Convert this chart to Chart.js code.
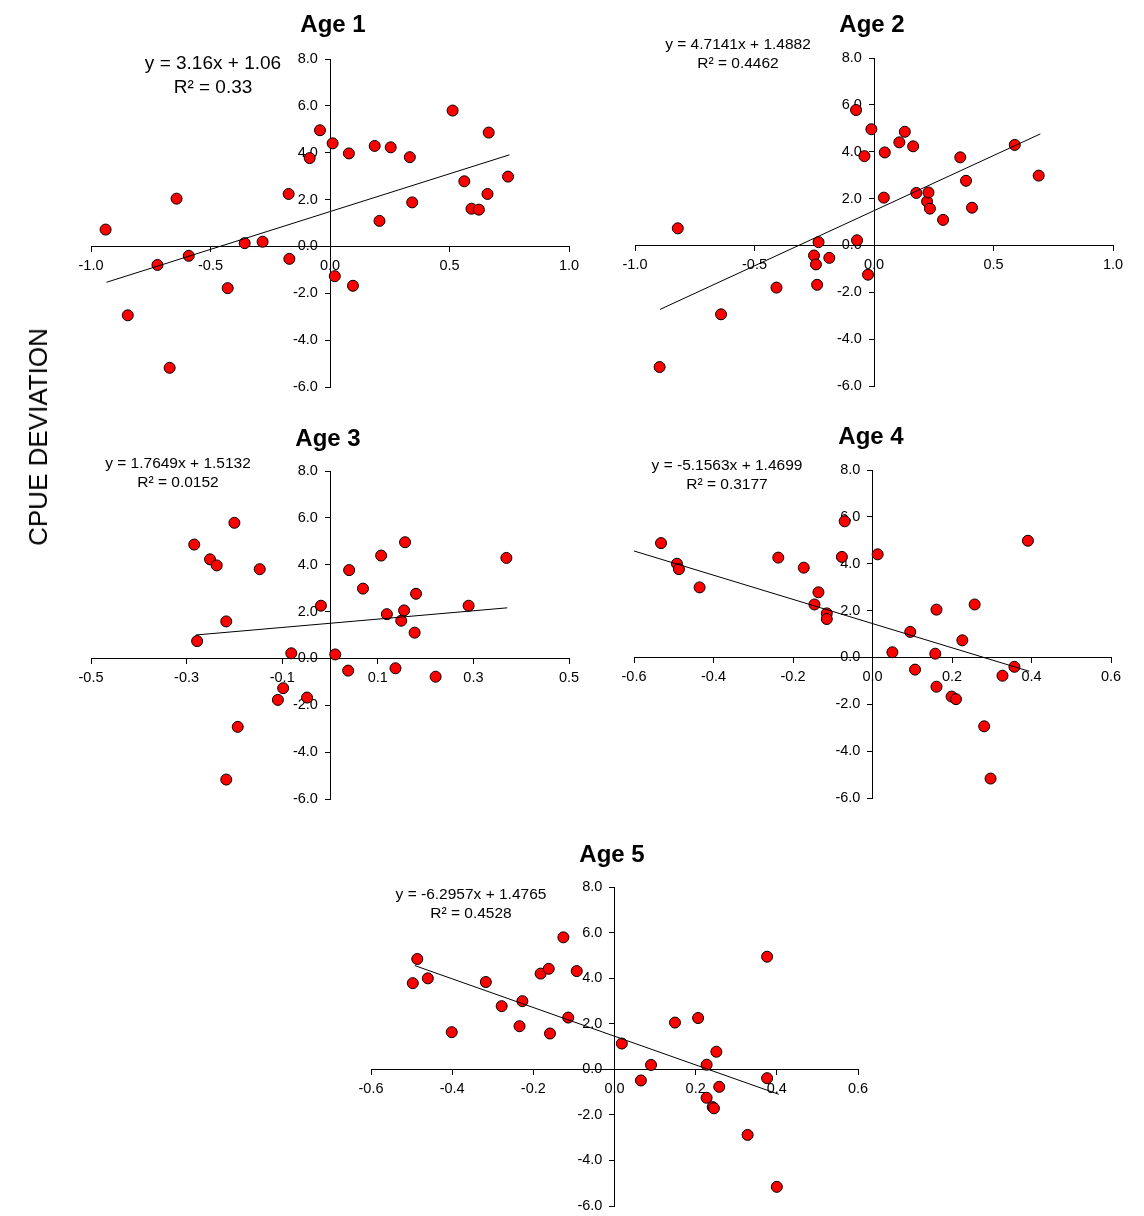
<!DOCTYPE html>
<html>
<head>
<meta charset="utf-8">
<script src="https://cdn.jsdelivr.net/npm/chart.js@4.4.1/dist/chart.umd.min.js"></script>
<style>
  html, body { margin: 0; padding: 0; background: #fff; }
  #page { position: relative; width: 1144px; height: 1216px; overflow: hidden;
          font-family: "Liberation Sans", Arial, sans-serif; color: #000; }
  canvas { position: absolute; }
  .txt { position: absolute; white-space: nowrap; line-height: 1; }
</style>
</head>
<body>
<div id="page"></div>
<script>
// ---- data (x = deviation, y = CPUE deviation) ----
const panelTitles = ['Age 1', 'Age 2', 'Age 3', 'Age 4', 'Age 5'];

const age1X = [-0.939, -0.846, -0.722, -0.671, -0.642, -0.591, -0.428, -0.357, -0.282, -0.173, -0.170, -0.085, -0.042, 0.011, 0.020, 0.079, 0.096, 0.187, 0.207, 0.254, 0.334, 0.344, 0.513, 0.562, 0.592, 0.623, 0.659, 0.664, 0.745];
const age1Y = [0.72, -2.94, -0.79, -5.18, 2.04, -0.40, -1.78, 0.14, 0.20, 2.24, -0.53, 3.77, 4.96, 4.40, -1.27, 3.97, -1.68, 4.29, 1.09, 4.23, 3.81, 1.88, 5.80, 2.78, 1.61, 1.57, 2.24, 4.86, 2.98];

const age2X = [-0.897, -0.821, -0.640, -0.408, -0.251, -0.243, -0.238, -0.232, -0.187, -0.075, -0.071, -0.040, -0.025, -0.011, 0.041, 0.045, 0.106, 0.129, 0.164, 0.177, 0.222, 0.228, 0.234, 0.289, 0.361, 0.385, 0.410, 0.589, 0.689];
const age2Y = [-5.19, 0.73, -2.94, -1.80, -0.43, -0.81, -1.68, 0.14, -0.53, 5.78, 0.22, 3.81, -1.25, 4.96, 2.04, 3.97, 4.40, 4.85, 4.23, 2.24, 1.88, 2.26, 1.57, 1.09, 3.76, 2.76, 1.61, 4.29, 2.98];

const age3X = [-0.284, -0.278, -0.251, -0.237, -0.217, -0.217, -0.200, -0.193, -0.147, -0.109, -0.098, -0.081, -0.048, -0.019, 0.011, 0.038, 0.040, 0.069, 0.107, 0.119, 0.137, 0.149, 0.155, 0.157, 0.177, 0.180, 0.221, 0.290, 0.369];
const age3Y = [4.86, 0.74, 4.23, 3.97, 1.58, -5.17, 5.79, -2.92, 3.81, -1.77, -1.27, 0.22, -1.67, 2.25, 0.17, -0.52, 3.77, 2.98, 4.39, 1.89, -0.42, 1.61, 2.05, 4.96, 1.10, 2.76, -0.78, 2.25, 4.29];

const age4X = [-0.532, -0.492, -0.487, -0.435, -0.237, -0.173, -0.146, -0.136, -0.115, -0.115, -0.077, -0.070, 0.013, 0.050, 0.095, 0.107, 0.158, 0.161, 0.161, 0.199, 0.210, 0.226, 0.257, 0.281, 0.297, 0.327, 0.357, 0.391];
const age4Y = [4.88, 4.00, 3.77, 2.99, 4.26, 3.83, 2.26, 2.78, 1.88, 1.64, 4.29, 5.81, 4.40, 0.22, 1.09, -0.52, 0.16, 2.04, -1.25, -1.67, -1.78, 0.73, 2.26, -2.94, -5.17, -0.78, -0.40, 4.98];

const age5X = [-0.497, -0.486, -0.460, -0.401, -0.317, -0.278, -0.234, -0.227, -0.182, -0.162, -0.159, -0.126, -0.114, -0.093, 0.018, 0.065, 0.090, 0.149, 0.206, 0.227, 0.227, 0.242, 0.245, 0.251, 0.258, 0.328, 0.376, 0.376, 0.400];
const age5Y = [3.78, 4.84, 3.99, 1.63, 3.83, 2.77, 1.89, 2.99, 4.20, 4.41, 1.57, 5.79, 2.27, 4.31, 1.13, -0.49, 0.19, 2.05, 2.25, 0.20, -1.25, -1.66, -1.71, 0.77, -0.77, -2.88, 4.94, -0.39, -5.16];

// trend line end points (as drawn in the reference)
const age1TrendX = [-0.935, 0.751], age1TrendY = [-1.53, 3.91];
const age2TrendX = [-0.895, 0.696], age2TrendY = [-2.73, 4.76];
const age3TrendX = [-0.281, 0.371], age3TrendY = [1.00, 2.16];
const age4TrendX = [-0.611, 0.394], age4TrendY = [4.60, -0.59];
const age5TrendX = [-0.492, 0.405], age5TrendY = [4.55, -1.10];

const eqLines = ['y = 3.16x + 1.06', 'y = 4.7141x + 1.4882', 'y = 1.7649x + 1.5132', 'y = -5.1563x + 1.4699', 'y = -6.2957x + 1.4765'];
const r2Lines = ['R\u00b2 = 0.33', 'R\u00b2 = 0.4462', 'R\u00b2 = 0.0152', 'R\u00b2 = 0.3177', 'R\u00b2 = 0.4528'];

// axis ranges / tick steps
const xMins = [-1, -1, -0.5, -0.6, -0.6];
const xMaxs = [1, 1, 0.5, 0.6, 0.6];
const xSteps = [0.5, 0.5, 0.2, 0.2, 0.2];
const yMin = -6, yMax = 8, yStep = 2;

const seriesX = [age1X, age2X, age3X, age4X, age5X];
const seriesY = [age1Y, age2Y, age3Y, age4Y, age5Y];
const trendX = [age1TrendX, age2TrendX, age3TrendX, age4TrendX, age5TrendX];
const trendY = [age1TrendY, age2TrendY, age3TrendY, age4TrendY, age5TrendY];

// ---- layout (pixels) ----
// plot area of each panel: left, top, right, bottom
const plotBoxes = [
    [91, 59, 569, 387],
    [635, 58, 1113, 386],
    [91, 471, 569, 799],
    [634, 470, 1111, 798],
    [371, 887, 858, 1206]
];
const titlePos = [[333, 32.5], [872, 32.5], [328, 446.5], [871, 444.5], [612, 862.5]];
const eqPos = [[213, 69, 93.5, 19], [738, 49.5, 68.5, 15.5], [178, 468.5, 487.5, 15.5], [727, 470.5, 489.5, 15.5], [471, 899.5, 918.5, 15.5]];

const FONT = '"Liberation Sans", Arial, sans-serif';
const page = document.getElementById('page');

function addText(str, cx, baseline, size, bold) {
    const d = document.createElement('div');
    d.className = 'txt';
    d.textContent = str;
    d.style.fontSize = size + 'px';
    d.style.fontWeight = bold ? 'bold' : 'normal';
    d.style.left = cx + 'px';
    d.style.top = (baseline - 0.8465 * size) + 'px';
    d.style.transform = 'translateX(-50%)';
    page.appendChild(d);
    return d;
}

function fmt(v) {
    if (Math.abs(v) < 1e-9) return '0.0';
    return Number(v).toFixed(1);
}

// y labels sit left of the centred axis: trailing spaces keep them off the tick marks
function fmtY(v) {
    return fmt(v) + '   ';
}

function makePanel(i) {
    const box = plotBoxes[i];
    const pad = { left: 40, right: 40, top: 30, bottom: 30 };
    const canvas = document.createElement('canvas');
    canvas.width = (box[2] - box[0]) + pad.left + pad.right;
    canvas.height = (box[3] - box[1]) + pad.top + pad.bottom;
    canvas.style.left = (box[0] - pad.left) + 'px';
    canvas.style.top = (box[1] - pad.top) + 'px';
    page.appendChild(canvas);

    const points = seriesX[i].map((x, k) => ({ x: x, y: seriesY[i][k] }));
    const trend = trendX[i].map((x, k) => ({ x: x, y: trendY[i][k] }));

    const axisGrid = { display: true, drawOnChartArea: false, drawTicks: true, tickLength: 5, color: '#000', lineWidth: 1 };
    const axisBorder = { display: true, color: '#000', width: 1 };

    new Chart(canvas.getContext('2d'), {
        type: 'scatter',
        data: {
            datasets: [
                {
                    label: 'Linear trend',
                    data: trend,
                    showLine: true,
                    borderColor: '#000',
                    borderWidth: 1,
                    pointRadius: 0,
                    fill: false
                },
                {
                    label: panelTitles[i],
                    data: points,
                    pointRadius: 5.5,
                    pointBackgroundColor: '#ff0000',
                    pointBorderColor: '#000',
                    pointBorderWidth: 1
                }
            ]
        },
        options: {
            responsive: false,
            animation: false,
            layout: { padding: pad },
            plugins: { legend: { display: false }, tooltip: { enabled: false } },
            scales: {
                x: {
                    type: 'linear',
                    min: xMins[i],
                    max: xMaxs[i],
                    position: { y: 0 },
                    grid: axisGrid,
                    border: axisBorder,
                    ticks: {
                        stepSize: xSteps[i],
                        autoSkip: false,
                        maxRotation: 0,
                        padding: 6,
                        color: '#000',
                        font: { family: FONT, size: 14.5 },
                        callback: fmt
                    }
                },
                y: {
                    type: 'linear',
                    min: yMin,
                    max: yMax,
                    position: { x: 0 },
                    grid: axisGrid,
                    border: axisBorder,
                    ticks: {
                        stepSize: yStep,
                        autoSkip: false,
                        padding: 6,
                        color: '#000',
                        font: { family: FONT, size: 14.5 },
                        callback: fmtY
                    }
                }
            }
        }
    });

    addText(panelTitles[i], titlePos[i][0], titlePos[i][1], 24, true);
    addText(eqLines[i], eqPos[i][0], eqPos[i][1], eqPos[i][3], false);
    addText(r2Lines[i], eqPos[i][0], eqPos[i][2], eqPos[i][3], false);
}

for (let i = 0; i < 5; i++) makePanel(i);

// shared y axis title
const yTitle = document.createElement('div');
yTitle.className = 'txt';
yTitle.textContent = 'CPUE  DEVIATION';
yTitle.style.fontSize = '26px';
yTitle.style.left = '38px';
yTitle.style.top = '437px';
yTitle.style.transform = 'translate(-50%, -50%) rotate(-90deg)';
page.appendChild(yTitle);
</script>
</body>
</html>
